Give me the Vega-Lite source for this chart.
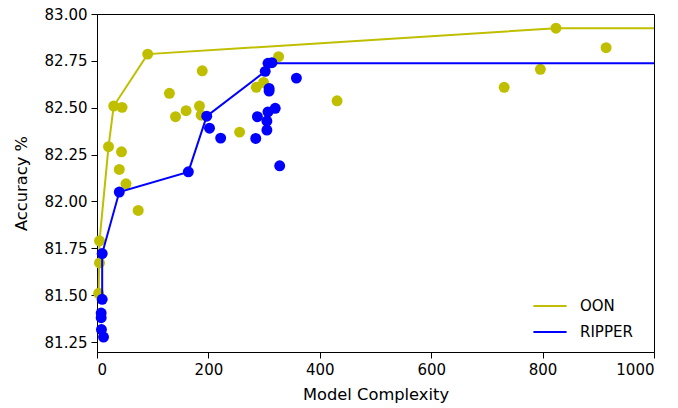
{
  "$schema": "https://vega.github.io/schema/vega-lite/v6.json",
  "width": 557,
  "height": 338,
  "autosize": {"type": "none"},
  "padding": {"left": 97, "top": 14, "right": 24, "bottom": 56},
  "background": "white",
  "config": {
    "font": "DejaVu Sans",
    "view": {"stroke": "black", "strokeWidth": 1},
    "axis": {
      "grid": false,
      "domainColor": "black",
      "tickColor": "black",
      "labelColor": "black",
      "titleColor": "black",
      "labelFont": "DejaVu Sans",
      "titleFont": "DejaVu Sans",
      "labelFontSize": 15,
      "titleFontSize": 16.3,
      "titleFontWeight": "normal",
      "tickSize": 6,
      "labelPadding": 4
    }
  },
  "data": {
    "values": [
      {"model": "OON", "kind": "point", "complexity": 824, "accuracy": 82.924},
      {"model": "OON", "kind": "point", "complexity": 914, "accuracy": 82.82},
      {"model": "OON", "kind": "point", "complexity": 796, "accuracy": 82.705},
      {"model": "OON", "kind": "point", "complexity": 731, "accuracy": 82.609},
      {"model": "OON", "kind": "point", "complexity": 431, "accuracy": 82.537},
      {"model": "OON", "kind": "point", "complexity": 326, "accuracy": 82.772},
      {"model": "OON", "kind": "point", "complexity": 286, "accuracy": 82.609},
      {"model": "OON", "kind": "point", "complexity": 299, "accuracy": 82.635},
      {"model": "OON", "kind": "point", "complexity": 91, "accuracy": 82.786},
      {"model": "OON", "kind": "point", "complexity": 189, "accuracy": 82.697},
      {"model": "OON", "kind": "point", "complexity": 130, "accuracy": 82.577},
      {"model": "OON", "kind": "point", "complexity": 30, "accuracy": 82.509},
      {"model": "OON", "kind": "point", "complexity": 45, "accuracy": 82.502},
      {"model": "OON", "kind": "point", "complexity": 160, "accuracy": 82.484},
      {"model": "OON", "kind": "point", "complexity": 184, "accuracy": 82.509},
      {"model": "OON", "kind": "point", "complexity": 187, "accuracy": 82.46},
      {"model": "OON", "kind": "point", "complexity": 141, "accuracy": 82.452},
      {"model": "OON", "kind": "point", "complexity": 256, "accuracy": 82.37},
      {"model": "OON", "kind": "point", "complexity": 20.7, "accuracy": 82.292},
      {"model": "OON", "kind": "point", "complexity": 44, "accuracy": 82.265},
      {"model": "OON", "kind": "point", "complexity": 40, "accuracy": 82.171},
      {"model": "OON", "kind": "point", "complexity": 52, "accuracy": 82.094},
      {"model": "OON", "kind": "point", "complexity": 74, "accuracy": 81.952},
      {"model": "OON", "kind": "point", "complexity": 4.5, "accuracy": 81.79},
      {"model": "OON", "kind": "point", "complexity": 4.5, "accuracy": 81.672},
      {"model": "OON", "kind": "point", "complexity": 3, "accuracy": 81.51},
      {"model": "RIPPER", "kind": "point", "complexity": 358, "accuracy": 82.658},
      {"model": "RIPPER", "kind": "point", "complexity": 314, "accuracy": 82.74},
      {"model": "RIPPER", "kind": "point", "complexity": 307, "accuracy": 82.737},
      {"model": "RIPPER", "kind": "point", "complexity": 302, "accuracy": 82.694},
      {"model": "RIPPER", "kind": "point", "complexity": 309, "accuracy": 82.603},
      {"model": "RIPPER", "kind": "point", "complexity": 309, "accuracy": 82.589},
      {"model": "RIPPER", "kind": "point", "complexity": 320, "accuracy": 82.497},
      {"model": "RIPPER", "kind": "point", "complexity": 307, "accuracy": 82.478},
      {"model": "RIPPER", "kind": "point", "complexity": 288, "accuracy": 82.452},
      {"model": "RIPPER", "kind": "point", "complexity": 305, "accuracy": 82.429},
      {"model": "RIPPER", "kind": "point", "complexity": 305, "accuracy": 82.381},
      {"model": "RIPPER", "kind": "point", "complexity": 285, "accuracy": 82.336},
      {"model": "RIPPER", "kind": "point", "complexity": 328, "accuracy": 82.19},
      {"model": "RIPPER", "kind": "point", "complexity": 197, "accuracy": 82.455},
      {"model": "RIPPER", "kind": "point", "complexity": 202, "accuracy": 82.391},
      {"model": "RIPPER", "kind": "point", "complexity": 222, "accuracy": 82.338},
      {"model": "RIPPER", "kind": "point", "complexity": 164, "accuracy": 82.158},
      {"model": "RIPPER", "kind": "point", "complexity": 40, "accuracy": 82.05},
      {"model": "RIPPER", "kind": "point", "complexity": 9.3, "accuracy": 81.722},
      {"model": "RIPPER", "kind": "point", "complexity": 9.3, "accuracy": 81.478},
      {"model": "RIPPER", "kind": "point", "complexity": 7.5, "accuracy": 81.405},
      {"model": "RIPPER", "kind": "point", "complexity": 7.5, "accuracy": 81.38},
      {"model": "RIPPER", "kind": "point", "complexity": 8, "accuracy": 81.317},
      {"model": "RIPPER", "kind": "point", "complexity": 11.7, "accuracy": 81.277},
      {"model": "OON", "kind": "front", "order": 1, "complexity": 3, "accuracy": 81.51},
      {"model": "OON", "kind": "front", "order": 2, "complexity": 4.5, "accuracy": 81.79},
      {"model": "OON", "kind": "front", "order": 3, "complexity": 20.7, "accuracy": 82.292},
      {"model": "OON", "kind": "front", "order": 4, "complexity": 30, "accuracy": 82.509},
      {"model": "OON", "kind": "front", "order": 5, "complexity": 91, "accuracy": 82.786},
      {"model": "OON", "kind": "front", "order": 6, "complexity": 824, "accuracy": 82.924},
      {"model": "OON", "kind": "front", "order": 7, "complexity": 1000, "accuracy": 82.924},
      {"model": "RIPPER", "kind": "front", "order": 1, "complexity": 9.3, "accuracy": 81.478},
      {"model": "RIPPER", "kind": "front", "order": 2, "complexity": 9.3, "accuracy": 81.722},
      {"model": "RIPPER", "kind": "front", "order": 3, "complexity": 40, "accuracy": 82.05},
      {"model": "RIPPER", "kind": "front", "order": 4, "complexity": 164, "accuracy": 82.158},
      {"model": "RIPPER", "kind": "front", "order": 5, "complexity": 197, "accuracy": 82.455},
      {"model": "RIPPER", "kind": "front", "order": 6, "complexity": 302, "accuracy": 82.694},
      {"model": "RIPPER", "kind": "front", "order": 7, "complexity": 307, "accuracy": 82.737},
      {"model": "RIPPER", "kind": "front", "order": 8, "complexity": 1000, "accuracy": 82.737}
    ]
  },
  "encoding": {
    "x": {
      "field": "complexity", "type": "quantitative",
      "scale": {"domain": [0, 1000], "nice": false, "zero": false},
      "axis": {"values": [0, 200, 400, 600, 800, 1000], "format": "d", "title": "Model Complexity", "titlePadding": 9}
    },
    "y": {
      "field": "accuracy", "type": "quantitative",
      "scale": {"domain": [81.197, 83.0], "nice": false, "zero": false},
      "axis": {"values": [81.25, 81.5, 81.75, 82.0, 82.25, 82.5, 82.75, 83.0], "format": ".2f", "title": "Accuracy %", "titlePadding": 15}
    },
    "color": {
      "field": "model", "type": "nominal",
      "scale": {"domain": ["OON", "RIPPER"], "range": ["#bfbf00", "#0000ff"]},
      "legend": {
        "title": null, "orient": "none", "legendX": 435, "legendY": 274,
        "symbolType": "stroke", "symbolSize": 1100, "symbolStrokeWidth": 2,
        "labelFontSize": 15, "labelFont": "DejaVu Sans", "labelColor": "black",
        "rowPadding": -9, "labelOffset": 12
      }
    }
  },
  "layer": [
    {
      "transform": [{"filter": "datum.kind === 'point' && datum.model === 'OON'"}],
      "mark": {"type": "circle", "size": 120, "opacity": 1}
    },
    {
      "transform": [{"filter": "datum.kind === 'front' && datum.model === 'OON'"}],
      "mark": {"type": "line", "strokeWidth": 2},
      "encoding": {
        "order": {"field": "order", "type": "quantitative"}
      }
    },
    {
      "transform": [{"filter": "datum.kind === 'point' && datum.model === 'RIPPER'"}],
      "mark": {"type": "circle", "size": 120, "opacity": 1}
    },
    {
      "transform": [{"filter": "datum.kind === 'front' && datum.model === 'RIPPER'"}],
      "mark": {"type": "line", "strokeWidth": 2},
      "encoding": {
        "order": {"field": "order", "type": "quantitative"}
      }
    }
  ]
}
